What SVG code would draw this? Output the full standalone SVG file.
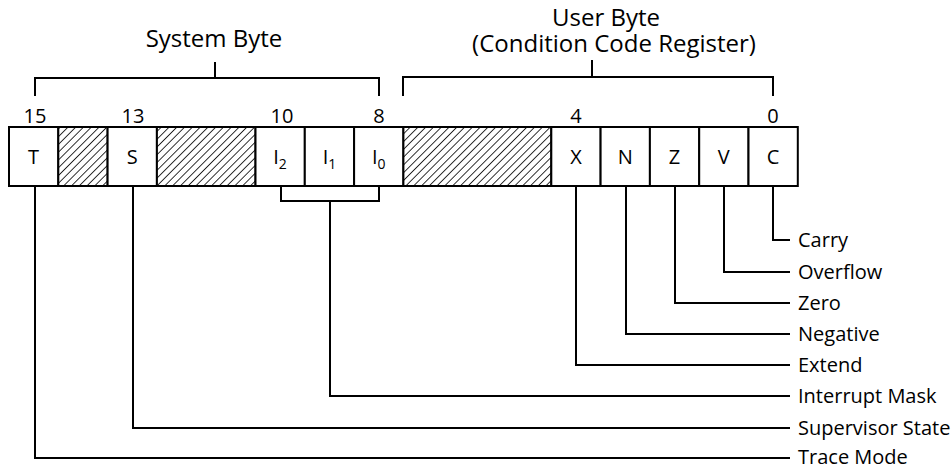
<svg xmlns="http://www.w3.org/2000/svg" width="951" height="470" viewBox="0 0 951 470">
<style>
text{font-family:"Open Sans","Liberation Sans",sans-serif;font-size:20px;fill:#000}
.m{text-anchor:middle}
.t{font-size:24px}
.cell{fill:#fff;stroke:#000;stroke-width:2}
.hat{fill:url(#hatch);stroke:#000;stroke-width:2}
.ln{fill:none;stroke:#000;stroke-width:2}
.sub{font-size:14px}
</style>
<defs>
<pattern id="hatch" patternUnits="userSpaceOnUse" width="5.5" height="5.5" patternTransform="rotate(45)">
<rect width="5.5" height="5.5" fill="#fff"/>
<line x1="0" y1="0" x2="0" y2="5.5" stroke="#000" stroke-width="1.6"/>
</pattern>
</defs>
<rect width="951" height="470" fill="#fff"/>

<g id="titles">
<text class="m t" x="214" y="47">System Byte</text>
<text class="m t"><tspan x="606" y="26">User Byte</tspan><tspan x="614" y="52">(Condition Code Register)</tspan></text>
</g>

<g id="brackets">
<path class="ln" d="M35,96 V78 H379 V96 M215,62 V78"/>
<path class="ln" d="M403,96 V77 H773 V96 M592,60 V77"/>
</g>

<g id="bitnumbers">
<text class="m" x="35" y="123">15</text>
<text class="m" x="133" y="123">13</text>
<text class="m" x="282" y="123">10</text>
<text class="m" x="379" y="123">8</text>
<text class="m" x="576" y="123">4</text>
<text class="m" x="773" y="123">0</text>
</g>

<g id="register">
<g id="bit15"><rect class="cell" x="9" y="127" width="49.3" height="59"/><text class="m" x="33.6" y="164">T</text></g>
<g id="bit14"><rect class="hat" x="58.3" y="127" width="49.3" height="59"/></g>
<g id="bit13"><rect class="cell" x="107.6" y="127" width="49.3" height="59"/><text class="m" x="132.2" y="164">S</text></g>
<g id="bit12_11"><rect class="hat" x="156.9" y="127" width="98.6" height="59"/></g>
<g id="bit10"><rect class="cell" x="255.5" y="127" width="49.3" height="59"/><text class="m" x="280" y="164">I<tspan class="sub" dy="5">2</tspan></text></g>
<g id="bit9"><rect class="cell" x="304.8" y="127" width="49.3" height="59"/><text class="m" x="329.5" y="164">I<tspan class="sub" dy="5">1</tspan></text></g>
<g id="bit8"><rect class="cell" x="354.1" y="127" width="49.3" height="59"/><text class="m" x="378.7" y="164">I<tspan class="sub" dy="5">0</tspan></text></g>
<g id="bit7_5"><rect class="hat" x="403.4" y="127" width="147.9" height="59"/></g>
<g id="bit4"><rect class="cell" x="551.3" y="127" width="49.3" height="59"/><text class="m" x="576" y="164">X</text></g>
<g id="bit3"><rect class="cell" x="600.6" y="127" width="49.3" height="59"/><text class="m" x="625.2" y="164">N</text></g>
<g id="bit2"><rect class="cell" x="649.9" y="127" width="49.3" height="59"/><text class="m" x="674.5" y="164">Z</text></g>
<g id="bit1"><rect class="cell" x="699.2" y="127" width="49.3" height="59"/><text class="m" x="723.8" y="164">V</text></g>
<g id="bit0"><rect class="cell" x="748.5" y="127" width="49.3" height="59"/><text class="m" x="773.1" y="164">C</text></g>
</g>

<g id="connectors">
<path class="ln" d="M773,186 V240 H790"/>
<path class="ln" d="M724,186 V272 H790"/>
<path class="ln" d="M675,186 V303 H790"/>
<path class="ln" d="M626,186 V334 H790"/>
<path class="ln" d="M576,186 V365 H790"/>
<path class="ln" d="M281,186 V201 H379 V186 M330,201 V396 H790"/>
<path class="ln" d="M133,186 V428 H790"/>
<path class="ln" d="M35,186 V458 H790"/>
</g>

<g id="labels">
<text x="798" y="247">Carry</text>
<text x="798" y="279">Overflow</text>
<text x="798" y="310">Zero</text>
<text x="798" y="341">Negative</text>
<text x="798" y="372">Extend</text>
<text x="798" y="403">Interrupt Mask</text>
<text x="798" y="435">Supervisor State</text>
<text x="798" y="464">Trace Mode</text>
</g>
</svg>
